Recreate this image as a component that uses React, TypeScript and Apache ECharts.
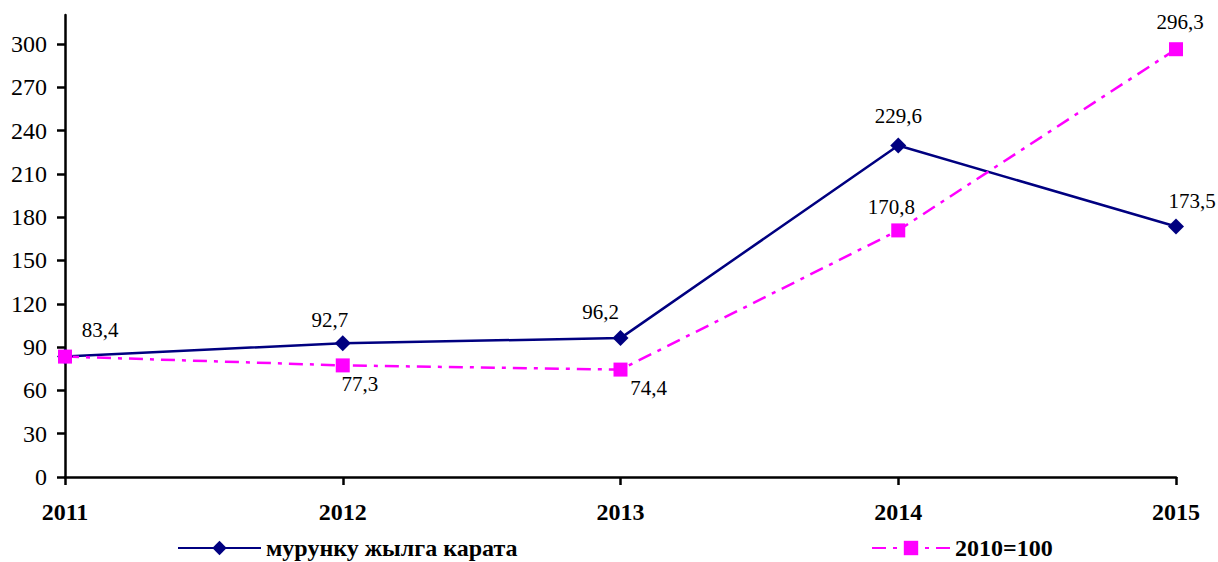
import React, { useEffect, useRef } from "react";
import * as echarts from "echarts";

const categories = ["2011", "2012", "2013", "2014", "2015"];
const prevYear = [83.4, 92.7, 96.2, 229.6, 173.5];
const base2010 = [83.4, 77.3, 74.4, 170.8, 296.3];
const yTicks = [0, 30, 60, 90, 120, 150, 180, 210, 240, 270, 300];
const prevYearName = "мурунку жылга карата";
const base2010Name = "2010=100";
const prevYearOffsets = [[35, -27], [-13, -23], [-20, -26], [0, -30], [16, -26]];
const base2010Offsets = [null, [17, 19], [28, 18], [-7, -23], [4, -27]];

const FONT = "Liberation Serif";

export default function App() {
  const ref = useRef<HTMLDivElement>(null);
  useEffect(() => {
    if (!ref.current) return;
    const chart = echarts.init(ref.current, null, { renderer: "svg" });
    const fmt = (p: any) => String(p.value).replace(".", ",");
    const labelBase = {
      show: true,
      position: "inside",
      color: "#000",
      fontFamily: FONT,
      fontSize: 21,
      formatter: fmt,
    };
    chart.setOption({
      animation: false,
      textStyle: { fontFamily: FONT },
      grid: { left: 65, right: 42, top: 15, bottom: 85, containLabel: false },
      xAxis: {
        type: "category",
        data: categories,
        boundaryGap: false,
        axisLine: { lineStyle: { color: "#000", width: 2.5 } },
        axisTick: { show: true, length: 8, lineStyle: { color: "#000", width: 2.5 } },
        axisLabel: { color: "#000", fontFamily: FONT, fontSize: 24, fontWeight: "bold", margin: 23 },
      },
      yAxis: {
        type: "value",
        min: 0,
        max: 320,
        interval: 30,
        splitLine: { show: false },
        axisLine: { show: true, lineStyle: { color: "#000", width: 2.5 } },
        axisTick: { show: true, length: 8, customValues: yTicks, lineStyle: { color: "#000", width: 2.5 } },
        axisLabel: { color: "#000", fontFamily: FONT, fontSize: 24, margin: 18, customValues: yTicks },
      },
      legend: [
        {
          data: [prevYearName],
          left: 172,
          top: 531,
          itemWidth: 83,
          itemHeight: 18,
          textStyle: { color: "#000", fontFamily: FONT, fontSize: 24, fontWeight: "bold" },
        },
        {
          data: [base2010Name],
          left: 866,
          top: 531,
          itemWidth: 78,
          itemHeight: 18,
          textStyle: { color: "#000", fontFamily: FONT, fontSize: 24, fontWeight: "bold" },
        },
      ],
      series: [
        {
          name: prevYearName,
          type: "line",
          symbol: "diamond",
          symbolSize: 16,
          color: "#000080",
          lineStyle: { color: "#000080", width: 2.5 },
          itemStyle: { color: "#000080" },
          data: prevYear.map((v, i) => ({
            value: v,
            label: { ...labelBase, offset: prevYearOffsets[i] },
          })),
        },
        {
          name: base2010Name,
          type: "line",
          symbol: "rect",
          symbolSize: 14,
          color: "#FF00FF",
          lineStyle: { color: "#FF00FF", width: 2.5, type: [14, 7, 4, 7] },
          itemStyle: { color: "#FF00FF" },
          data: base2010.map((v, i) => ({
            value: v,
            label: base2010Offsets[i]
              ? { ...labelBase, offset: base2010Offsets[i] }
              : { show: false },
          })),
        },
      ],
    });
    return () => chart.dispose();
  }, []);
  return <div ref={ref} style={{ width: 1218, height: 562, position: "absolute", left: 0, top: 0 }} />;
}
